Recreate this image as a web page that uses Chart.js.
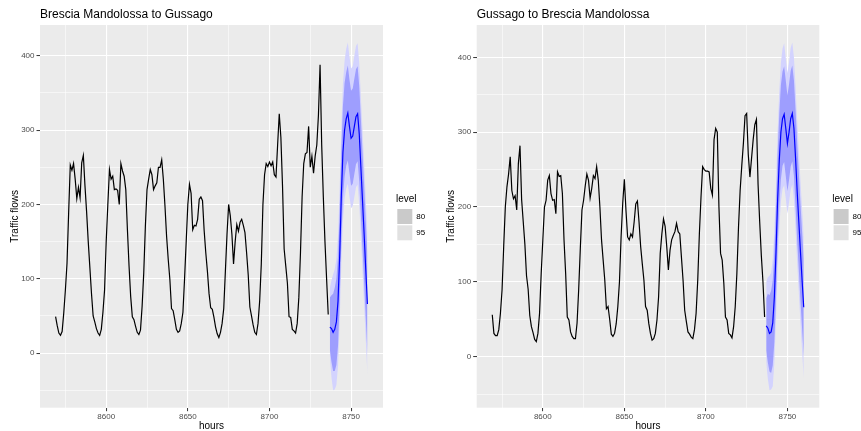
<!DOCTYPE html>
<html>
<head>
<meta charset="utf-8">
<script src="https://cdn.jsdelivr.net/npm/chart.js@4.4.1/dist/chart.umd.min.js"></script>
<style>
  html, body { margin: 0; padding: 0; background: #fff; overflow: hidden; }
  #wrap { position: relative; width: 861px; height: 431px; overflow: hidden; }
  canvas { position: absolute; top: 0; }
  #left { left: 0; }
  #right { left: 430px; }
</style>
</head>
<body>
<div id="wrap">
  <canvas id="left" width="445" height="431"></canvas>
  <canvas id="right" width="445" height="431"></canvas>
</div>
<script>
// hours of the observed week and of the 24h forecast
const histStart = 8569;
const fcStart = 8737;
const xTicks = [8575, 8600, 8625, 8650, 8675, 8700, 8725, 8750];
const yTicks = [-50, 0, 50, 100, 150, 200, 250, 300, 350, 400];
const levels = ['80', '95'];

// Brescia Mandolossa -> Gussago
const leftHist = [
  49, 37, 27, 24, 29, 54, 85, 121, 189, 253, 246, 255, 234, 208, 223, 209, 256, 266, 225, 190, 150, 115, 80, 50,
  42, 33, 27, 24, 32, 55, 85, 150, 200, 247, 234, 238, 220, 221, 219, 200, 255, 245, 238, 220, 166, 117, 76, 49,
  45, 36, 28, 25, 31, 63, 108, 171, 220, 234, 247, 240, 220, 225, 229, 250, 250, 260, 234, 198, 157, 126, 99, 60,
  57, 45, 32, 28, 30, 40, 55, 100, 150, 200, 227, 215, 166, 172, 171, 180, 207, 210, 205, 165, 135, 110, 80, 61,
  59, 48, 35, 26, 21, 28, 40, 60, 110, 160, 200, 185, 160, 120, 150, 173, 164, 176, 180, 172, 162, 135, 105, 62,
  50, 38, 28, 25, 40, 70, 120, 200, 240, 255, 251, 257, 252, 257, 240, 237, 280, 322, 290, 225, 140, 117, 94, 49,
  48, 32, 30, 27, 40, 75, 135, 210, 255, 268, 270, 305, 250, 265, 242, 265, 280, 320, 388, 280, 210, 150, 100, 52
];
const leftMean = [35, 33, 28, 32, 42, 70, 130, 210, 270, 300, 315, 323, 305, 289, 292, 305, 318, 322, 295, 250, 205, 160, 112, 66];
const leftLo80 = [5, -12, -24, -24, -16, 10, 69, 148, 208, 237, 252, 259, 242, 225, 228, 241, 254, 258, 231, 185, 140, 95, 47, 1];
const leftHi80 = [75, 78, 80, 88, 100, 130, 191, 272, 332, 363, 378, 387, 368, 353, 356, 369, 382, 386, 359, 315, 270, 225, 177, 131];
const leftLo95 = [-5, -33, -50, -49, -43, -18, 40, 118, 178, 207, 221, 228, 211, 195, 198, 210, 223, 227, 200, 155, 110, 65, 17, -29];
const leftHi95 = [88, 98, 106, 113, 127, 158, 220, 302, 362, 393, 409, 418, 399, 383, 386, 400, 413, 417, 390, 345, 300, 255, 207, 161];

// Gussago -> Brescia Mandolossa
const rightHist = [
  56, 31, 28, 28, 36, 58, 89, 147, 200, 227, 244, 267, 222, 211, 215, 196, 258, 282, 210, 180, 150, 108, 90, 55,
  40, 32, 23, 20, 31, 58, 111, 156, 200, 209, 236, 242, 218, 209, 210, 191, 247, 241, 242, 218, 156, 111, 53, 49,
  33, 27, 24, 24, 45, 90, 145, 196, 209, 228, 244, 236, 212, 225, 242, 238, 254, 236, 200, 156, 129, 102, 64, 67,
  50, 30, 27, 31, 44, 67, 100, 160, 205, 237, 195, 160, 156, 164, 160, 180, 204, 208, 180, 147, 124, 102, 67, 62,
  44, 31, 22, 24, 31, 49, 80, 138, 164, 184, 174, 147, 116, 142, 156, 162, 167, 178, 167, 164, 133, 102, 62, 47,
  33, 30, 26, 24, 36, 58, 102, 164, 213, 254, 250, 248, 248, 247, 225, 216, 290, 305, 300, 200, 138, 129, 98, 53,
  49, 31, 29, 25, 40, 67, 111, 173, 222, 255, 285, 322, 325, 270, 240, 265, 290, 310, 317, 230, 180, 135, 100, 53
];
const rightMean = [41, 38, 31, 33, 45, 80, 140, 210, 262, 300, 318, 324, 305, 285, 300, 318, 325, 305, 265, 220, 180, 140, 102, 66];
const rightLo80 = [8, -8, -20, -22, -12, 20, 79, 148, 200, 237, 255, 260, 241, 221, 236, 254, 261, 241, 200, 155, 115, 75, 37, 1];
const rightHi80 = [78, 84, 82, 88, 102, 140, 201, 272, 324, 363, 381, 388, 369, 349, 364, 382, 389, 369, 330, 285, 245, 205, 167, 131];
const rightLo95 = [-8, -30, -45, -44, -40, -8, 50, 118, 170, 207, 224, 229, 211, 191, 206, 223, 230, 210, 170, 125, 85, 45, 7, -29];
const rightHi95 = [100, 106, 108, 112, 130, 168, 230, 302, 354, 393, 412, 419, 399, 379, 394, 413, 420, 400, 360, 315, 275, 235, 197, 161];

Chart.defaults.font.family = '"Liberation Sans", Arial, sans-serif';
Chart.defaults.color = '#4D4D4D';

const panelBg = {
  id: 'panelBg',
  beforeDraw(chart) {
    const {ctx, chartArea: a} = chart;
    ctx.save();
    ctx.fillStyle = '#EBEBEB';
    ctx.fillRect(a.left, a.top, a.right - a.left, a.bottom - a.top);
    ctx.restore();
  }
};

const pts = (start, vals) => vals.map((v, i) => ({x: start + i, y: v}));

function makePanel(id, p) {
  const band = (vals, extra) => Object.assign({
    data: pts(fcStart, vals), borderWidth: 0, pointRadius: 0, fill: false
  }, extra);

  new Chart(document.getElementById(id), {
    type: 'line',
    data: {
      datasets: [
        {data: pts(histStart, p.hist), borderColor: '#000', borderWidth: 1.2, pointRadius: 0, order: 0},
        {data: pts(fcStart, p.mean), borderColor: '#0000FF', borderWidth: 1.2, pointRadius: 0, order: 1},
        band(p.lo95, {order: 3}),
        band(p.hi95, {order: 3, fill: 2, backgroundColor: '#D3D3FE'}),
        band(p.lo80, {order: 2}),
        band(p.hi80, {order: 2, fill: 4, backgroundColor: '#9E9EFE'})
      ]
    },
    options: {
      responsive: false,
      animation: false,
      devicePixelRatio: 1,
      layout: {padding: {left: 0, right: p.padRight, top: 0, bottom: 0}},
      plugins: {
        tooltip: {enabled: false},
        title: {
          display: true, text: p.title, align: 'start', fullSize: false,
          color: '#000', font: {size: 12, weight: 'normal'},
          padding: {top: 7.6, bottom: 3}
        },
        legend: {
          position: 'right',
          maxWidth: 35,
          title: {display: true, text: 'level', position: 'start', color: '#000',
                  font: {size: 10}, padding: {top: 4.6, bottom: 1.7}},
          labels: {
            boxWidth: 15, boxHeight: 15, padding: 1.3, color: '#000', font: {size: 8},
            generateLabels: () => levels.map((l, i) => ({
              text: l, fillStyle: i === 0 ? '#CACACA' : '#E1E1E1',
              strokeStyle: 'rgba(0,0,0,0)', lineWidth: 0, hidden: false, datasetIndex: i
            }))
          },
          onClick: () => {}
        }
      },
      scales: {
        x: {
          type: 'linear', min: 8559.45, max: 8769.55,
          afterBuildTicks: s => { s.ticks = xTicks.map(v => ({value: v})); },
          afterFit: s => { s.height = 23.3; },
          ticks: {
            autoSkip: false, maxRotation: 0, padding: 1, font: {size: 8}, color: '#4D4D4D',
            callback: v => (v % 50 === 0 ? String(v) : '')
          },
          grid: {
            color: '#FFFFFF',
            lineWidth: c => (c.tick && c.tick.value % 50 === 0 ? 1.1 : 0.55),
            tickLength: 3.5, tickWidth: 1,
            tickColor: c => (c.tick && c.tick.value % 50 === 0 ? '#333333' : 'rgba(0,0,0,0)')
          },
          border: {display: false},
          title: {display: true, text: 'hours', color: '#000', font: {size: 10, lineHeight: 1},
                  padding: {top: 0, bottom: 0}}
        },
        y: {
          type: 'linear', min: p.yMin, max: p.yMax,
          afterBuildTicks: s => { s.ticks = yTicks.map(v => ({value: v})); },
          afterFit: s => { s.width = p.axisW; },
          ticks: {
            padding: 2, font: {size: 8}, color: '#4D4D4D',
            callback: v => (v % 100 === 0 ? String(v) : '')
          },
          grid: {
            color: '#FFFFFF',
            lineWidth: c => (c.tick && c.tick.value % 100 === 0 ? 1.1 : 0.55),
            tickLength: 3.5, tickWidth: 1,
            tickColor: c => (c.tick && c.tick.value % 100 === 0 ? '#333333' : 'rgba(0,0,0,0)')
          },
          border: {display: false},
          title: {display: true, text: 'Traffic flows', color: '#000', font: {size: 10, lineHeight: 1},
                  padding: {top: p.yTitlePad, bottom: 0}}
        },
        // empty spacer between panel and legend
        gap: {
          position: 'right', display: true,
          grid: {display: false}, ticks: {display: false}, border: {display: false},
          afterFit: s => { s.width = 13; }
        }
      }
    },
    plugins: [panelBg]
  });
}

makePanel('left', {
  title: 'Brescia Mandolossa to Gussago',
  hist: leftHist, mean: leftMean, lo80: leftLo80, hi80: leftHi80, lo95: leftLo95, hi95: leftHi95,
  yMin: -73.4, yMax: 441.4, axisW: 40, yTitlePad: 9.8, padRight: 14
});
makePanel('right', {
  title: 'Gussago to Brescia Mandolossa',
  hist: rightHist, mean: rightMean, lo80: rightLo80, hi80: rightHi80, lo95: rightLo95, hi95: rightHi95,
  yMin: -68.3, yMax: 443.3, axisW: 46.7, yTitlePad: 16.5, padRight: 7.7
});
</script>
</body>
</html>
